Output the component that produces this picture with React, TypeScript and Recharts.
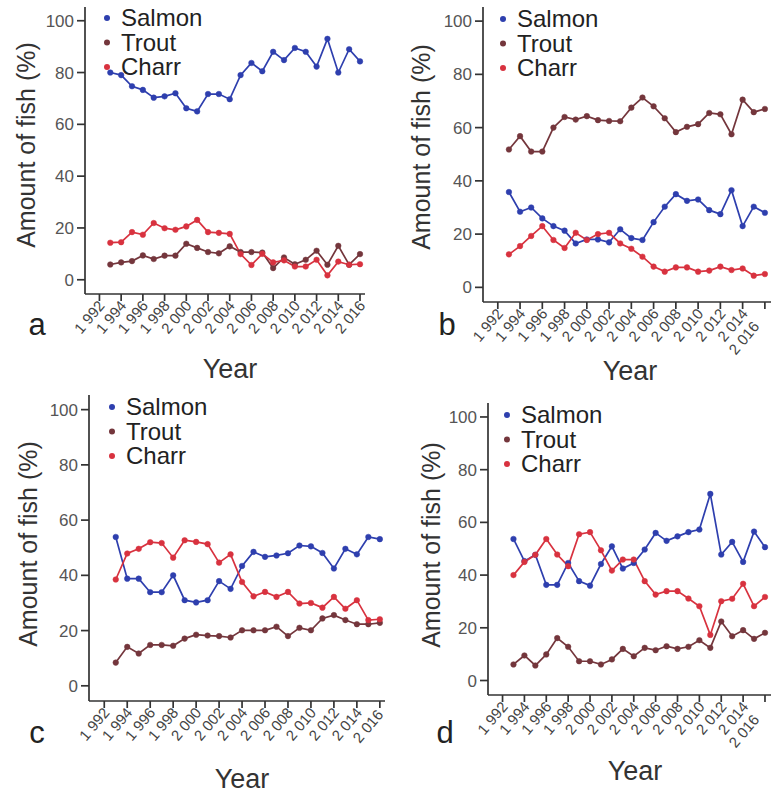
import React from 'react';
import { LineChart, Line, XAxis, YAxis } from 'recharts';

const years = [1993, 1994, 1995, 1996, 1997, 1998, 1999, 2000, 2001, 2002, 2003, 2004, 2005, 2006, 2007, 2008, 2009, 2010, 2011, 2012, 2013, 2014, 2015, 2016];
const xTicks = [1992, 1994, 1996, 1998, 2000, 2002, 2004, 2006, 2008, 2010, 2012, 2014, 2016];
const yTicks = [0, 20, 40, 60, 80, 100];
const seriesNames = ['Salmon', 'Trout', 'Charr'];

const salmonA = [80, 79, 74.7, 73.3, 70.3, 70.8, 72, 66.2, 65, 71.7, 71.7, 69.7, 79, 83.7, 80.5, 88, 84.8, 89.5, 88, 82.3, 93, 80, 89, 84.3];
const troutA = [5.9, 6.7, 7.2, 9.4, 8, 9.3, 9.3, 13.9, 12.3, 10.7, 10.2, 12.9, 10.7, 10.7, 10.5, 4.5, 8.6, 6, 7.7, 11.2, 5.8, 13.1, 5.8, 9.9];
const charrA = [14.3, 14.5, 18.4, 17.4, 21.9, 19.9, 19.3, 20.6, 23.1, 18.4, 18.1, 17.7, 9.9, 5.7, 10, 6.7, 7.5, 5.1, 5.1, 7.7, 1.7, 7, 5.8, 6];

const salmonB = [35.8, 28.4, 30, 25.9, 23, 21.3, 16.5, 18, 18, 16.9, 21.8, 18.5, 17.8, 24.5, 30.3, 35, 32.5, 33, 29, 27.5, 36.5, 23, 30.3, 28];
const troutB = [51.8, 56.8, 51, 51, 60, 64, 63, 64.3, 62.8, 62.5, 62.4, 67.5, 71.3, 68, 63.5, 58.3, 60.3, 61.3, 65.5, 65, 57.5, 70.5, 65.8, 67];
const charrB = [12.4, 15.5, 19.3, 23, 17.8, 14.8, 20.5, 17.8, 20, 20.5, 16.5, 14.5, 11.5, 7.8, 5.9, 7.5, 7.5, 5.9, 6.3, 7.8, 6.5, 7.1, 4.4, 5];

const salmonC = [53.9, 38.8, 38.8, 33.9, 33.9, 40, 31, 30.2, 31, 37.9, 35.1, 43.4, 48.5, 46.7, 47.2, 48, 50.8, 50.5, 48.1, 42.5, 49.6, 47.6, 53.9, 53.1];
const troutC = [8.4, 14.1, 11.7, 14.8, 14.8, 14.5, 17.1, 18.5, 18.2, 18, 17.5, 20.1, 20.1, 20.1, 21.4, 18, 21, 20.1, 24.4, 25.6, 23.8, 22.3, 22.3, 22.8];
const charrC = [38.5, 47.9, 49.6, 52, 51.7, 46.4, 52.7, 52.1, 51.3, 44.6, 47.6, 37.6, 32.4, 34, 32.2, 34, 29.8, 30, 28.3, 32.2, 27.9, 31, 23.8, 24.1];

const salmonD = [53.7, 45.3, 47.7, 36.3, 36.3, 44.6, 37.7, 36, 44.2, 50.9, 42.5, 44.6, 49.7, 56, 53, 54.7, 56.3, 57.3, 70.8, 47.8, 52.6, 45, 56.5, 50.6];
const troutD = [6.1, 9.5, 5.7, 9.9, 16.1, 12.8, 7.3, 7.3, 6.1, 8, 12, 9.2, 12.4, 11.5, 13, 12, 12.8, 15.3, 12.4, 22.4, 16.8, 19.1, 15.8, 18.1];
const charrD = [40, 45, 47.7, 53.7, 47.8, 43.4, 55.5, 56.3, 49.4, 41.7, 45.9, 45.9, 37.7, 32.6, 33.9, 33.9, 31.1, 28.2, 17.3, 30.1, 31, 36.7, 28.2, 31.7];

const panelLetters = ['a', 'b', 'c', 'd'];

const COLORS = { Salmon: '#2e3fae', Trout: '#74363c', Charr: '#d8323f' };
const FONT = '"Liberation Sans", Arial, sans-serif';

const build = (s: number[], t: number[], c: number[]) =>
  years.map((y, i) => ({ year: y, Salmon: s[i], Trout: t[i], Charr: c[i] }));

const panels = [
  { data: build(salmonA, troutA, charrA), left: 0, top: 0, w: 385, h: 400, yw: 85, mt: 7, mr: 20, xh: 106, xMax: 2016.46,
    yLabel: [35, 145], year: [230, 378], letter: [37, 335], legX: 107, legY: 26 },
  { data: build(salmonB, troutB, charrB), left: 385, top: 0, w: 386, h: 400, yw: 98, mt: 7, mr: 0, xh: 98, xMax: 2016.55,
    yLabel: [430, 147], year: [630, 380], letter: [447, 335], legX: 503, legY: 27 },
  { data: build(salmonC, troutC, charrC), left: 0, top: 395, w: 395, h: 398, yw: 89, mt: 0, mr: 10, xh: 92, xMax: 2016.45,
    yLabel: [37, 544], year: [242, 788], letter: [37, 743], legX: 112, legY: 415 },
  { data: build(salmonD, troutD, charrD), left: 385, top: 400, w: 386, h: 393, yw: 103, mt: 3, mr: 0, xh: 98, xMax: 2016.55,
    yLabel: [440, 545], year: [635, 780], letter: [445, 743], legX: 507, legY: 423 },
];

const fmtYear = (v: number) => String(v).replace(/^(\d)(\d{3})$/, '$1 $2');

const makeXTick = (chartW: number) => (props: any) => {
  const { x, y, payload } = props;
  const want = x + 6;
  const ax = Math.min(want, chartW - 11);
  const shift = want - ax;
  const ay = y + 3 + shift * 1.19;
  return (
    <g transform={`translate(${ax},${ay})`}>
      <text x={0} y={0} textAnchor="end" transform="rotate(-50)" fontSize={15} fill="#444" fontFamily={FONT}>
        {fmtYear(payload.value)}
      </text>
    </g>
  );
};

const Panel = ({ p }: { p: any }) => {
  const TickComp = makeXTick(p.w);
  return (
    <div style={{ position: 'absolute', left: p.left, top: p.top }}>
      <LineChart width={p.w} height={p.h} data={p.data} margin={{ top: p.mt, right: p.mr, bottom: 0, left: 0 }}>
        <XAxis
          dataKey="year"
          type="number"
          domain={[1990.67, p.xMax]}
          ticks={xTicks}
          interval={0}
          height={p.xh}
          tickSize={7}
          tickMargin={2}
          tick={(tp: any) => <TickComp {...tp} />}
          axisLine={{ stroke: '#333', strokeWidth: 1.7 }}
          tickLine={{ stroke: '#333', strokeWidth: 1.7 }}
          allowDataOverflow
        />
        <YAxis
          type="number"
          domain={[-5.5, 105.3]}
          ticks={yTicks}
          interval={0}
          width={p.yw}
          tickSize={8}
          tickMargin={3}
          tick={{ fontSize: 17, fill: '#555', fontFamily: FONT }}
          axisLine={{ stroke: '#333', strokeWidth: 1.7 }}
          tickLine={{ stroke: '#333', strokeWidth: 1.7 }}
          allowDataOverflow
        />
        {seriesNames.map((n) => (
          <Line
            key={n}
            dataKey={n}
            type="linear"
            stroke={(COLORS as any)[n]}
            strokeWidth={1.7}
            dot={{ r: 2.8, fill: (COLORS as any)[n], stroke: (COLORS as any)[n], strokeWidth: 0.5 }}
            isAnimationActive={false}
          />
        ))}
      </LineChart>
    </div>
  );
};

export default function App() {
  return (
    <div style={{ position: 'absolute', left: 0, top: 0, width: 771, height: 793, background: '#fff', overflow: 'hidden' }}>
      {panels.map((p, i) => (
        <Panel key={i} p={p} />
      ))}
      <svg width={771} height={793} style={{ position: 'absolute', left: 0, top: 0, pointerEvents: 'none' }} fontFamily={FONT}>
        {panels.map((p, i) => (
          <g key={i}>
            <text
              x={0}
              y={0}
              transform={`translate(${p.yLabel[0]},${p.yLabel[1]}) rotate(-90)`}
              textAnchor="middle"
              fontSize={25}
              fill="#333"
            >
              Amount of fish (%)
            </text>
            <text x={p.year[0]} y={p.year[1]} textAnchor="middle" fontSize={27} fill="#333">
              Year
            </text>
            <text x={p.letter[0]} y={p.letter[1]} textAnchor="middle" fontSize={31} fill="#222">
              {panelLetters[i]}
            </text>
            {seriesNames.map((n, k) => (
              <g key={n}>
                <circle cx={p.legX} cy={p.legY + k * 24.5 - 8} r={3} fill={(COLORS as any)[n]} />
                <text x={p.legX + 14} y={p.legY + k * 24.5} fontSize={24} fill="#222">
                  {n}
                </text>
              </g>
            ))}
          </g>
        ))}
      </svg>
    </div>
  );
}
